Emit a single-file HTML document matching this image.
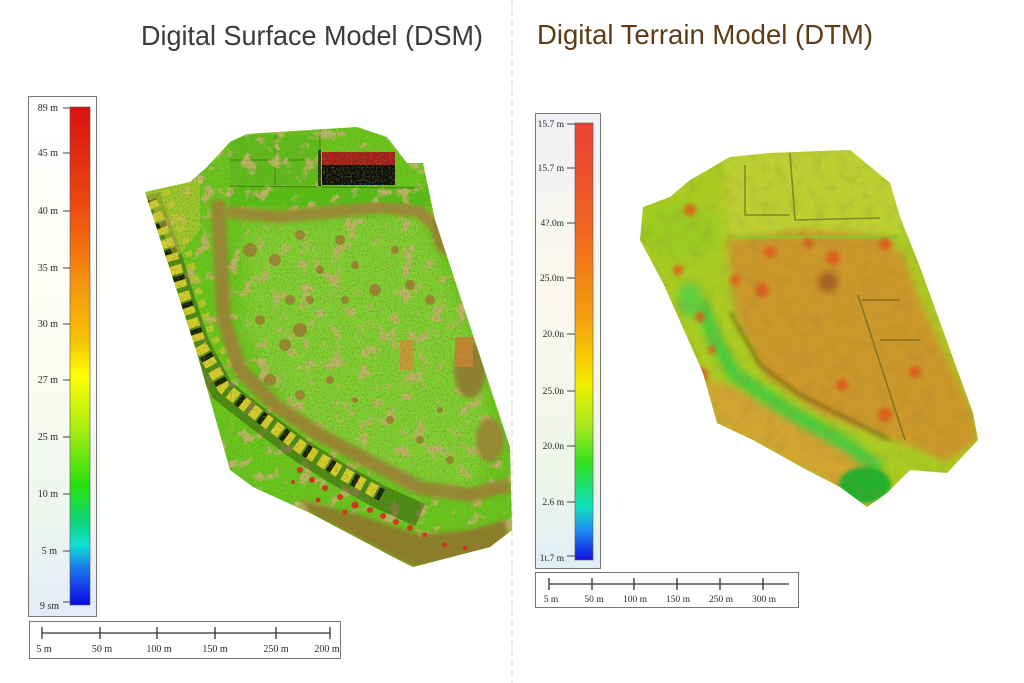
<!DOCTYPE html>
<html><head><meta charset="utf-8"><style>
html,body{margin:0;padding:0;background:#fff;}
svg{display:block;}
.lab{font-family:"Liberation Serif",serif;font-size:10px;fill:#2a2a2a;}
</style></head><body>
<svg width="1024" height="683" viewBox="0 0 1024 683" xmlns="http://www.w3.org/2000/svg">
<defs>
 <linearGradient id="dsmbar" x1="0" y1="0" x2="0" y2="1">
  <stop offset="0" stop-color="#d81010"/>
  <stop offset="0.2" stop-color="#ee4a10"/>
  <stop offset="0.35" stop-color="#f49210"/>
  <stop offset="0.47" stop-color="#f7c400"/>
  <stop offset="0.54" stop-color="#ffff00"/>
  <stop offset="0.65" stop-color="#a6ec10"/>
  <stop offset="0.76" stop-color="#28e010"/>
  <stop offset="0.83" stop-color="#10d478"/>
  <stop offset="0.88" stop-color="#10e0d8"/>
  <stop offset="0.93" stop-color="#1c70f0"/>
  <stop offset="1" stop-color="#0808e0"/>
 </linearGradient>
 <linearGradient id="dtmbar" x1="0" y1="0" x2="0" y2="1">
  <stop offset="0" stop-color="#e84035"/>
  <stop offset="0.25" stop-color="#f06620"/>
  <stop offset="0.45" stop-color="#f5a010"/>
  <stop offset="0.55" stop-color="#f8d000"/>
  <stop offset="0.6" stop-color="#f0f000"/>
  <stop offset="0.7" stop-color="#a0e820"/>
  <stop offset="0.78" stop-color="#30e020"/>
  <stop offset="0.88" stop-color="#10e0c0"/>
  <stop offset="0.93" stop-color="#2090f0"/>
  <stop offset="1" stop-color="#1010e0"/>
 </linearGradient>
 <linearGradient id="legbg" x1="0" y1="0" x2="0" y2="1">
  <stop offset="0" stop-color="#ffffff"/>
  <stop offset="0.5" stop-color="#fcfcf2"/>
  <stop offset="0.8" stop-color="#eef6ee"/>
  <stop offset="1" stop-color="#e2ecf8"/>
 </linearGradient>
 <linearGradient id="legbg2" x1="0" y1="0" x2="0" y2="1">
  <stop offset="0" stop-color="#f2f2f6"/>
  <stop offset="0.4" stop-color="#fcf8ee"/>
  <stop offset="0.8" stop-color="#eef6ea"/>
  <stop offset="1" stop-color="#e0eef6"/>
 </linearGradient>
 <clipPath id="dsmclip"><polygon points="145,192 190,182 207,167 230,142 247,134 357,127 387,137 407,163 423,163 435,220 510,447 512,530 490,547 413,567 393,557 310,513 253,487 230,470 197,353"/></clipPath>
 <clipPath id="dtmclip"><polygon points="643,207 670,197 690,180 730,157 770,153 850,150 890,183 900,217 920,267 973,413 978,440 947,473 910,470 887,493 867,507 840,487 807,470 753,440 717,423 703,373 663,283 640,240"/></clipPath>
 <filter id="b2" x="-20%" y="-20%" width="140%" height="140%"><feGaussianBlur stdDeviation="2"/></filter>
 <filter id="b4" x="-20%" y="-20%" width="140%" height="140%"><feGaussianBlur stdDeviation="4"/></filter>
 <filter id="b7" x="-30%" y="-30%" width="160%" height="160%"><feGaussianBlur stdDeviation="7"/></filter>
 <filter id="noise" x="0" y="0" width="100%" height="100%">
  <feTurbulence type="fractalNoise" baseFrequency="0.55" numOctaves="2" seed="4"/>
  <feColorMatrix type="matrix" values="0 0 0 0 0.2  0 0 0 0 0.25  0 0 0 0 0.03  3.0 0 0 0 -1.4"/>
 </filter>
 <filter id="trees" x="0" y="0" width="100%" height="100%">
  <feTurbulence type="fractalNoise" baseFrequency="0.07" numOctaves="3" seed="2"/>
  <feColorMatrix type="matrix" values="0 0 0 0 0.52  0 0 0 0 0.46  0 0 0 0 0.14  7 0 0 0 -4.0"/>
 </filter>
 <filter id="noise2" x="0" y="0" width="100%" height="100%">
  <feTurbulence type="fractalNoise" baseFrequency="0.08" numOctaves="3" seed="9"/>
  <feColorMatrix type="matrix" values="0 0 0 0 0.3  0 0 0 0 0.22  0 0 0 0 0.05  2.4 0 0 0 -1.05"/>
 </filter>
</defs>

<rect width="1024" height="683" fill="#fff"/>
<line x1="512" y1="0" x2="512" y2="683" stroke="#d4d4d4" stroke-width="1" stroke-dasharray="6 4"/>

<!-- Titles -->
<text x="141" y="45" font-family="Liberation Sans, sans-serif" font-size="28" fill="#3b3b3b" textLength="342" lengthAdjust="spacingAndGlyphs">Digital Surface Model (DSM)</text>
<text x="537" y="44" font-family="Liberation Sans, sans-serif" font-size="28" fill="#5e3c16" textLength="336" lengthAdjust="spacingAndGlyphs">Digital Terrain Model (DTM)</text>

<!-- DSM legend -->
<rect x="28.5" y="96.5" width="68" height="520" fill="url(#legbg)" stroke="#777" stroke-width="1"/>
<rect x="70" y="107" width="20" height="498" fill="url(#dsmbar)" stroke="#555" stroke-width="0.6"/>
<g stroke="#444" stroke-width="1">
 <line x1="63" y1="108" x2="70" y2="108"/><line x1="63" y1="153" x2="70" y2="153"/>
 <line x1="63" y1="211" x2="70" y2="211"/><line x1="63" y1="268" x2="70" y2="268"/>
 <line x1="63" y1="324" x2="70" y2="324"/><line x1="63" y1="380" x2="70" y2="380"/>
 <line x1="63" y1="437" x2="70" y2="437"/><line x1="63" y1="494" x2="70" y2="494"/>
 <line x1="63" y1="551" x2="70" y2="551"/><line x1="63" y1="602" x2="70" y2="602"/>
</g>
<g class="lab" text-anchor="end">
 <text x="58" y="111">89 m</text><text x="58" y="156">45 m</text>
 <text x="58" y="214">40 m</text><text x="58" y="271">35 m</text>
 <text x="58" y="327">30 m</text><text x="58" y="383">27 m</text>
 <text x="58" y="440">25 m</text><text x="58" y="497">10 m</text>
 <text x="57" y="554">5 m</text><text x="59" y="609">9 sm</text>
</g>

<!-- DSM scale -->
<rect x="29.5" y="621.5" width="311" height="37" fill="#fff" stroke="#777" stroke-width="1"/>
<g stroke="#333" stroke-width="1.3">
 <line x1="42" y1="633" x2="330" y2="633"/>
 <line x1="42" y1="627" x2="42" y2="639"/><line x1="100" y1="627" x2="100" y2="639"/>
 <line x1="157" y1="627" x2="157" y2="639"/><line x1="215" y1="627" x2="215" y2="639"/>
 <line x1="276" y1="627" x2="276" y2="639"/><line x1="330" y1="627" x2="330" y2="639"/>
</g>
<g class="lab" text-anchor="middle">
 <text x="44" y="652">5 m</text><text x="102" y="652">50 m</text>
 <text x="159" y="652">100 m</text><text x="215" y="652">150 m</text>
 <text x="276" y="652">250 m</text><text x="327" y="652">200 m</text>
</g>

<!-- DTM legend -->
<rect x="535.5" y="113.5" width="65" height="455" fill="url(#legbg2)" stroke="#777" stroke-width="1"/>
<rect x="575" y="123" width="18" height="437" fill="url(#dtmbar)" stroke="#555" stroke-width="0.6"/>
<g stroke="#444" stroke-width="1">
 <line x1="567" y1="124" x2="575" y2="124"/><line x1="567" y1="168" x2="575" y2="168"/>
 <line x1="567" y1="223" x2="575" y2="223"/><line x1="567" y1="278" x2="575" y2="278"/>
 <line x1="567" y1="334" x2="575" y2="334"/><line x1="567" y1="391" x2="575" y2="391"/>
 <line x1="567" y1="446" x2="575" y2="446"/><line x1="567" y1="502" x2="575" y2="502"/>
 <line x1="567" y1="556" x2="575" y2="556"/>
</g>
<g class="lab" text-anchor="end" style="font-size:9.5px">
 <text x="564" y="127">15.7 m</text><text x="564" y="171">15.7 m</text>
 <text x="564" y="226">4?.0m</text><text x="564" y="281">25.0m</text>
 <text x="564" y="337">20.0n</text><text x="564" y="394">25.0n</text>
 <text x="564" y="449">20.0n</text><text x="564" y="505">2.6 m</text>
 <text x="564" y="561">1t.7 m</text>
</g>

<!-- DTM scale -->
<rect x="535.5" y="572.5" width="263" height="35" fill="#fff" stroke="#777" stroke-width="1"/>
<g stroke="#333" stroke-width="1.3">
 <line x1="549" y1="584" x2="789" y2="584"/>
 <line x1="549" y1="578" x2="549" y2="590"/><line x1="592" y1="578" x2="592" y2="590"/>
 <line x1="634" y1="578" x2="634" y2="590"/><line x1="677" y1="578" x2="677" y2="590"/>
 <line x1="720" y1="578" x2="720" y2="590"/><line x1="763" y1="578" x2="763" y2="590"/>
</g>
<g class="lab" text-anchor="middle" style="font-size:9.5px">
 <text x="551" y="602">5 m</text><text x="594" y="602">50 m</text>
 <text x="635" y="602">100 m</text><text x="678" y="602">150 m</text>
 <text x="721" y="602">250 m</text><text x="764" y="602">300 m</text>
</g>

<!-- DSM map -->
<g clip-path="url(#dsmclip)">
 <rect x="140" y="120" width="380" height="455" fill="#66c81a"/>
 <polygon points="245,225 420,215 470,330 495,440 470,495 380,470 295,420 245,330" fill="#80d030" filter="url(#b7)"/>
 <rect x="230" y="186" width="200" height="20" fill="#54c014"/>
 <!-- top-left fields -->
 <rect x="230" y="135" width="90" height="50" fill="#5cbe1a"/>
 <g stroke="#2a5008" stroke-width="1" opacity="0.6">
  <line x1="275" y1="135" x2="275" y2="185"/><line x1="230" y1="160" x2="320" y2="160"/>
  <line x1="320" y1="130" x2="320" y2="188"/><line x1="230" y1="186" x2="420" y2="188"/>
 </g>
 <!-- tree texture -->
 <rect x="140" y="120" width="380" height="455" filter="url(#trees)"/>
 <!-- building strip -->
 <polyline points="148,196 168,250 183,300 198,345 222,390 260,420 300,450 340,475 380,497 420,515" fill="none" stroke="#1c2a08" stroke-width="24" opacity="0.4"/>
 <polyline points="150,200 170,250 185,300 200,345 224,388 262,418 302,448 342,473 382,495" fill="none" stroke="#d6cf2c" stroke-width="13" stroke-dasharray="9 5"/>
 <polyline points="150,200 170,250 185,300 200,345 224,388 262,418 302,448 342,473 382,495" fill="none" stroke="#141c06" stroke-width="13" stroke-dasharray="5 23" stroke-dashoffset="3"/>
 <polyline points="165,190 185,240 198,290 212,335 240,375 280,405 320,432 360,456 400,480" fill="none" stroke="#b8c828" stroke-width="7" stroke-dasharray="6 7"/>
 <polygon points="145,192 200,178 200,230 175,260" fill="#c8c83a" opacity="0.55"/>
 <!-- tree band -->
 <polyline points="218,200 221,260 224,320 240,370 275,405 320,435 370,462 420,488 470,495 510,485" fill="none" stroke="#9a8634" stroke-width="14" filter="url(#b2)"/>
 <polyline points="225,212 280,217 330,212 380,207 420,212 440,230" fill="none" stroke="#9e8a38" stroke-width="12" filter="url(#b2)"/>
 <!-- bottom dense trees -->
 <polygon points="300,500 360,515 420,535 470,530 505,520 510,550 413,567 310,513" fill="#8e7c2c" filter="url(#b2)"/>
 <g fill="#d83020">
  <circle cx="300" cy="470" r="3"/><circle cx="312" cy="480" r="3"/><circle cx="325" cy="488" r="3"/>
  <circle cx="340" cy="497" r="3"/><circle cx="355" cy="505" r="3.5"/><circle cx="370" cy="510" r="3"/>
  <circle cx="383" cy="516" r="3"/><circle cx="396" cy="522" r="3"/><circle cx="410" cy="528" r="3"/>
  <circle cx="425" cy="535" r="2.5"/><circle cx="445" cy="545" r="2.5"/><circle cx="465" cy="548" r="2.5"/>
  <circle cx="318" cy="500" r="2.5"/><circle cx="345" cy="512" r="2.5"/><circle cx="293" cy="482" r="2"/>
 </g>
 <!-- right side trees / buildings -->
 <ellipse cx="452" cy="232" rx="20" ry="25" fill="#968432" filter="url(#b2)"/>
 <ellipse cx="470" cy="370" rx="16" ry="28" fill="#908030" filter="url(#b2)"/>
 <rect x="455" y="337" width="18" height="30" fill="#c88432"/>
 <ellipse cx="490" cy="440" rx="14" ry="22" fill="#9a8834" filter="url(#b2)"/>
 <rect x="400" y="340" width="14" height="30" fill="#c89a3a"/>
 <!-- park scattered trees -->
 <g fill="#9a8632">
  <circle cx="275" cy="260" r="6"/><circle cx="290" cy="300" r="5"/><circle cx="300" cy="330" r="7"/>
  <circle cx="320" cy="270" r="4"/><circle cx="340" cy="240" r="5"/><circle cx="355" cy="265" r="4"/>
  <circle cx="375" cy="290" r="6"/><circle cx="395" cy="250" r="4"/><circle cx="410" cy="285" r="5"/>
  <circle cx="285" cy="345" r="6"/><circle cx="310" cy="300" r="4"/><circle cx="260" cy="320" r="5"/>
  <circle cx="330" cy="380" r="4"/><circle cx="355" cy="400" r="3"/><circle cx="390" cy="420" r="4"/>
  <circle cx="420" cy="440" r="4"/><circle cx="440" cy="410" r="3"/><circle cx="430" cy="300" r="5"/>
  <circle cx="270" cy="380" r="6"/><circle cx="300" cy="395" r="5"/><circle cx="450" cy="460" r="4"/>
  <circle cx="250" cy="250" r="7"/><circle cx="300" cy="235" r="5"/><circle cx="345" cy="300" r="4"/>
 </g>
 <!-- red building -->
 <rect x="322" y="152" width="73" height="13" fill="#a61a1a"/>
 <rect x="322" y="165" width="73" height="20" fill="#0e0e0e"/>
 <rect x="318" y="150" width="3" height="36" fill="#1e3a08"/>
 <!-- texture -->
 <rect x="140" y="120" width="380" height="455" filter="url(#noise)" opacity="0.6"/>
</g>

<!-- DTM map -->
<g clip-path="url(#dtmclip)">
 <rect x="630" y="140" width="360" height="380" fill="#aacc22"/>
 <rect x="725" y="150" width="180" height="85" fill="#bcd030" filter="url(#b4)"/>
 <ellipse cx="680" cy="230" rx="40" ry="30" fill="#9ccc20" filter="url(#b4)"/>
 <polygon points="727,240 807,230 887,237 905,260 920,300 973,413 978,440 947,462 900,442 820,414 762,372 735,312" fill="#cc982a" filter="url(#b4)"/>
 <polygon points="700,378 730,385 790,415 850,445 880,470 867,510 840,490 807,472 753,442 717,425" fill="#d2a432" filter="url(#b4)"/>
 <polyline points="700,300 715,340 735,375 790,412 848,445 880,470" fill="none" stroke="#48cc3c" stroke-width="14" filter="url(#b4)"/>
 <polyline points="735,236 810,236 900,238" fill="none" stroke="#80d030" stroke-width="8" filter="url(#b4)"/>
 <ellipse cx="690" cy="300" rx="12" ry="18" fill="#60d040" filter="url(#b4)"/>
 <ellipse cx="865" cy="485" rx="26" ry="18" fill="#22b02e" filter="url(#b2)"/>
 <!-- hotspots -->
 <g fill="#e0561e" filter="url(#b2)" opacity="0.85">
  <circle cx="690" cy="210" r="6"/><circle cx="770" cy="252" r="6"/><circle cx="833" cy="258" r="7"/>
  <circle cx="762" cy="290" r="7"/><circle cx="808" cy="243" r="5"/><circle cx="885" cy="244" r="6"/>
  <circle cx="678" cy="270" r="5"/><circle cx="700" cy="317" r="5"/><circle cx="700" cy="375" r="8"/>
  <circle cx="842" cy="385" r="6"/><circle cx="915" cy="372" r="6"/><circle cx="885" cy="415" r="7"/>
  <circle cx="735" cy="280" r="5"/><circle cx="712" cy="350" r="4"/>
 </g>
 <circle cx="828" cy="282" r="10" fill="#a85a22" filter="url(#b4)"/>
 <!-- ridges -->
 <polyline points="730,312 760,365 800,395 860,425 890,440" fill="none" stroke="#4a3a10" stroke-width="2" filter="url(#b2)" opacity="0.8"/>
 <g fill="none" stroke="#5a5a18" stroke-width="1.5" opacity="0.6">
  <polyline points="745,165 745,215 790,215"/>
  <polyline points="790,153 795,220 880,218"/>
  <polyline points="862,300 900,300"/><polyline points="880,340 920,340"/>
  <polyline points="858,295 905,440"/>
 </g>
 <rect x="630" y="140" width="360" height="380" filter="url(#noise2)" opacity="0.22"/>
</g>
</svg>
</body></html>
